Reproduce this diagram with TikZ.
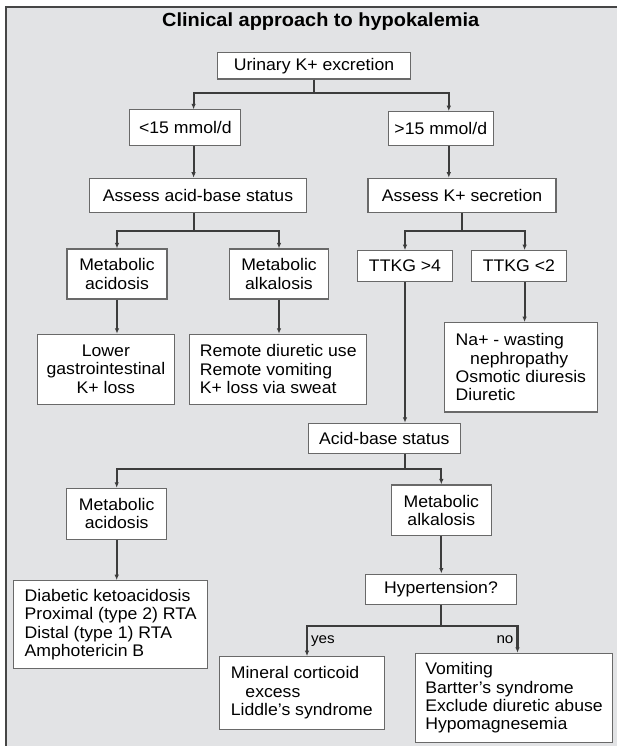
\documentclass[tikz,border=0pt]{standalone}
\usepackage{fontspec}
\setmainfont{Liberation Sans}[FakeStretch=1.05]
\usetikzlibrary{arrows.meta}
\definecolor{panel}{RGB}{226,227,229}
\definecolor{framecol}{RGB}{70,70,70}
\definecolor{boxline}{RGB}{105,105,105}
\definecolor{arrowline}{RGB}{60,60,60}

\begin{document}
\begin{tikzpicture}[x=1pt, y=-1pt,
  box/.style={draw=boxline, fill=white, line width=1.1pt, inner sep=0pt, align=center, font=\fontsize{16.8}{18.4}\selectfont},
  listbox/.style={box, align=left},
  conn/.style={draw=arrowline, line width=2.1pt},
  tag/.style={font=\fontsize{14.5}{16}\selectfont, inner sep=3pt},
  >={Latex[length=5.5pt,width=4.5pt]}]
\useasboundingbox (0,0) rectangle (617,746);
\clip (0,0) rectangle (617,746);
\draw[framecol, line width=1.6pt, fill=panel] (5.9,7.3) rectangle (650,780);
\node (title) at (320.7,21.5) [font=\bfseries\fontsize{19}{22}\selectfont] {Clinical approach to hypokalemia};

\node (urin) at (314,65.7) [box, minimum width=193, minimum height=26.7] {Urinary K+ excretion};
\node (lt15) at (185.4,127.8) [box, minimum width=111, minimum height=35.7] {<15 mmol/d};
\node (gt15) at (440.8,128.7) [box, minimum width=104.7, minimum height=34] {>15 mmol/d};
\node (aab) at (198,195.5) [box, minimum width=216.5, minimum height=34.4] {Assess acid-base status};
\node (ak) at (462,195.5) [box, minimum width=188, minimum height=34.4] {Assess K+ secretion};
\node (macid) at (117,274) [box, minimum width=100, minimum height=50] {Metabolic\\acidosis};
\node (malk) at (279,274) [box, minimum width=98.4, minimum height=50] {Metabolic\\alkalosis};
\node (ttkgh) at (405,266.2) [box, minimum width=95.6, minimum height=31] {TTKG >4};
\node (ttkgl) at (518.9,266.2) [box, minimum width=95.6, minimum height=31] {TTKG <2};
\node (lgi) at (105.9,369.3) [box, minimum width=137, minimum height=70] {Lower\\gastrointestinal\\K+ loss};
\node (remote) at (278.2,369.3) [listbox, minimum width=177, minimum height=70] {Remote diuretic use\\Remote vomiting\\K+ loss via sweat};
\node (nawaste) at (520.9,367.3) [listbox, minimum width=152.3, minimum height=89.3] {Na+ - wasting\\\hspace*{14.5pt}nephropathy\\Osmotic diuresis\\Diuretic};
\node (abs) at (384.3,438.3) [box, minimum width=152.3, minimum height=30] {Acid-base status};
\node (macid2) at (116.7,513.7) [box, minimum width=99.6, minimum height=50.7] {Metabolic\\acidosis};
\node (malk2) at (441.3,510.3) [box, minimum width=100.3, minimum height=50.7] {Metabolic\\alkalosis};
\node (dka) at (110.6,624.5) [listbox, minimum width=193.6, minimum height=87.6] {Diabetic ketoacidosis\\Proximal (type 2) RTA\\Distal (type 1) RTA\\Amphotericin B};
\node (htn) at (441,589.2) [box, minimum width=151.5, minimum height=30.3] {Hypertension?};
\node (mineral) at (301.8,693) [listbox, minimum width=165.3, minimum height=72.6] {Mineral corticoid\\\hspace*{14.6pt}excess\\Liddle’s syndrome};
\node (vomit) at (514,698) [listbox, minimum width=197.5, minimum height=89.4] {Vomiting\\Bartter’s syndrome\\Exclude diuretic abuse\\Hypomagnesemia};

\draw[conn,->] (urin.south) -- ++(0,13.7) -| ([xshift=8.2]lt15.north);
\draw[conn,->] (urin.south) -- ++(0,13.7) -| ([xshift=8]gt15.north);
\draw[conn,->] ([xshift=8.2]lt15.south) -- ([xshift=8.2]lt15.south |- aab.north);
\draw[conn,->] ([xshift=8]gt15.south) -- ([xshift=8]gt15.south |- ak.north);
\draw[conn,->] ([xshift=-4.4]aab.south) -- ++(0,17.3) -| (macid.north);
\draw[conn,->] ([xshift=-4.4]aab.south) -- ++(0,17.3) -| (malk.north);
\draw[conn,->] (macid.south) -- (macid.south |- lgi.north);
\draw[conn,->] (malk.south) -- (malk.south |- remote.north);
\draw[conn,->] (ak.south) -- ++(0,17.3) -| (ttkgh.north);
\draw[conn,->] (ak.south) -- ++(0,17.3) -| ([xshift=5.7]ttkgl.north);
\draw[conn,->] ([xshift=5.7]ttkgl.south) -- ([xshift=5.7]ttkgl.south |- nawaste.north);
\draw[conn,->] (ttkgh.south) -- (ttkgh.south |- abs.north);
\draw[conn,->] (ttkgh.south |- abs.south) -- ++(0,15) -| (macid2.north);
\draw[conn,->] (ttkgh.south |- abs.south) -- ++(0,15) -| (malk2.north);
\draw[conn,->] (macid2.south) -- (macid2.south |- dka.north);
\draw[conn,->] (malk2.south) -- (malk2.south |- htn.north);
\draw[conn,->] (htn.south) -- ++(0,21.4) -| ([xshift=5.2]mineral.north) node[tag, pos=0.75, right] {yes};
\draw[conn,->] (htn.south) -- ++(0,21.4) -| ([xshift=3.5]vomit.north) node[tag, pos=0.75, left] {no};
\end{tikzpicture}
\end{document}
